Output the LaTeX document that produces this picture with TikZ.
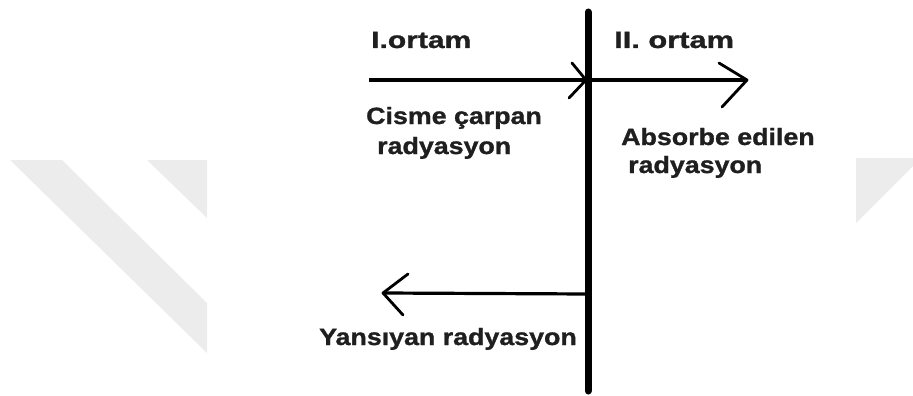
\documentclass[tikz,border=0pt]{standalone}
\usepackage{fontspec}
\setmainfont{Liberation Sans}[FakeStretch=1.14,FakeBold=1.2]
\definecolor{wm}{RGB}{236,236,236}
\begin{document}
\begin{tikzpicture}[x=1pt,y=-1pt,
  lab/.style={anchor=base west,inner sep=0pt,font=\fontsize{23.5}{29}\selectfont\bfseries,text=black!88},
  ray/.style={draw=black,line width=3.2pt},
  tip/.style={draw=black,line width=2.8pt,line cap=round,line join=round},
  wall/.style={draw=black,line width=7pt,line cap=round}]
\useasboundingbox (0,0) rectangle (913,396);
% watermark
\fill[wm] (10,160) -- (62,160) -- (207,303) -- (207,353) -- cycle;
\fill[wm] (147,160) -- (207,160) -- (207,218) -- cycle;
\fill[wm] (856,158) -- (913,158) -- (913,166) -- (856,223) -- cycle;
% coordinates
\coordinate (wt) at (588,12);
\coordinate (wb) at (588,391);
\coordinate (inS) at (369,80);
\coordinate (hit) at (588,80);
\coordinate (absE) at (747,80);
\coordinate (refS) at (588,294);
\coordinate (refE) at (383,293);
% rays
\draw[ray] (inS) -- (hit);
\draw[ray] (hit) -- (absE);
\draw[ray] (refS) -- (refE);
% chevrons
\coordinate (c1a) at (572,63); \coordinate (c1t) at (586,80); \coordinate (c1b) at (569,98);
\draw[tip] (c1a) -- (c1t) -- (c1b);
\coordinate (c2a) at (719,63); \coordinate (c2t) at (747,80); \coordinate (c2b) at (722,107);
\draw[tip] (c2a) -- (c2t) -- (c2b);
\coordinate (c3a) at (408,274); \coordinate (c3t) at (383,293); \coordinate (c3b) at (403,315);
\draw[tip] (c3a) -- (c3t) -- (c3b);
% wall
\draw[wall] (wt) -- (wb);
% labels
\node[lab] (l1) at (371,48) {\scalebox{1.12}[1]{I.ortam}};
\node[lab] (l2) at (614,48) {\scalebox{1.15}[1]{II. ortam}};
\node[lab] (l3) at (366,124) {Cisme çarpan};
\node[lab] (l4) at (377,154) {radyasyon};
\node[lab] (l5) at (621,145) {Absorbe edilen};
\node[lab] (l6) at (628,173) {radyasyon};
\node[lab] (l7) at (319,345) {Yansıyan radyasyon};
\end{tikzpicture}
\end{document}
